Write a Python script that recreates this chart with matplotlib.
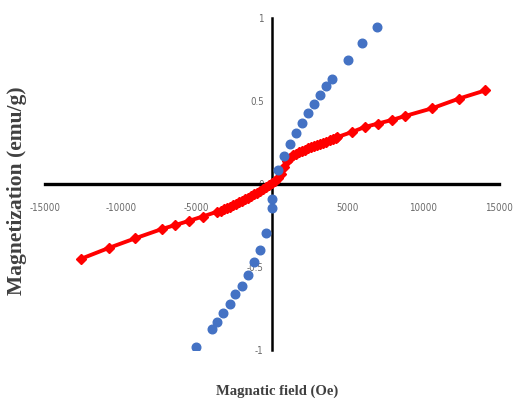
import numpy as np
import matplotlib
matplotlib.use('Agg')
import matplotlib.pyplot as plt

# ---------- data ----------

# blue points
blue_H = [6930, 5940, 4990, 3950, 3600, 3200, 2800, 2390, 1970, 1590, 1190, 770, 400,
          -20, -20, -400, -800, -1190, -1570, -2010, -2430, -2800, -3230, -3620, -3990, -4990]
blue_M = [0.946, 0.847, 0.747, 0.634, 0.589, 0.536, 0.48, 0.428, 0.369, 0.309, 0.239, 0.169, 0.083,
          -0.092, -0.143, -0.295, -0.40, -0.47, -0.548, -0.614, -0.664, -0.725, -0.777, -0.833, -0.875, -0.982]

# red curve
red_H = [-12600, -10780, -9030, -7240, -6380, -5480, -4590, -3660,
         -3400, -3200, -3000, -2800, -2600, -2400, -2200, -2000, -1800, -1600,
         -1400, -1200, -1000, -800, -600, -400, -200, 0, 200, 400, 600, 800,
         1000, 1200, 1400, 1600, 1800, 2000, 2200, 2400, 2600, 2800, 3000,
         3200, 3400, 3600, 3800, 4000, 4200, 4300,
         5280, 6120, 7000, 7930, 8810, 10580, 12340, 14100]
red_M = [-0.45, -0.385, -0.327, -0.27, -0.247, -0.222, -0.196, -0.168,
         -0.16, -0.152, -0.144, -0.136, -0.127, -0.118, -0.109, -0.1, -0.091, -0.082,
         -0.072, -0.062, -0.052, -0.042, -0.031, -0.019, -0.007, 0.006, 0.02, 0.036, 0.06, 0.1,
         0.14, 0.158, 0.172, 0.183, 0.192, 0.2, 0.207, 0.214, 0.221, 0.228, 0.235,
         0.242, 0.249, 0.256, 0.263, 0.27, 0.277, 0.282,
         0.313, 0.343, 0.364, 0.386, 0.41, 0.456, 0.514, 0.564]

x_ticks = [-15000, -10000, -5000, 5000, 10000, 15000]
y_ticks = [-1, -0.5, 0, 0.5, 1]
y_ticklabels = ['-1', '-0.5', '0', '0.5', '1']

# ---------- plot ----------

W, H = 513, 401
fig = plt.figure(figsize=(W/100, H/100), dpi=100)
ax = fig.add_axes([45/W, 1-350/H, 454/W, 332/H])

ax.plot(red_H, red_M, color='#ff0000', lw=2.8, marker='D', ms=5, zorder=3)
ax.plot(blue_H, blue_M, ls='none', marker='o', color='#4472c4', ms=6.2, zorder=4)

ax.set_xlim(-15000, 15000)
ax.set_ylim(-1, 1)

for s in ['top', 'right']:
    ax.spines[s].set_visible(False)
ax.spines['left'].set_position(('data', 0))
ax.spines['bottom'].set_position(('data', 0))
ax.spines['bottom'].set_linewidth(2.4)
ax.spines['left'].set_linewidth(1.8)
ax.spines['left'].set_zorder(2)
ax.spines['bottom'].set_zorder(2)

tick_font = dict(family='DejaVu Sans', stretch='condensed', size=7)
ax.set_xticks(x_ticks)
ax.set_xticklabels([str(v) for v in x_ticks], color='#6a6a6a', **tick_font)
ax.set_yticks(y_ticks)
ax.set_yticklabels(y_ticklabels, color='#6a6a6a', **tick_font)
ax.tick_params(axis='x', length=0, pad=14)
ax.tick_params(axis='y', length=0, pad=6)

fig.text(17/W, 1-191/H, 'Magnetization (emu/g)', rotation=90, ha='center', va='center',
         family='Liberation Serif', weight='bold', size=15.5, color='#404040')
fig.text(277/W, 1-391/H, 'Magnatic field (Oe)', ha='center', va='center',
         family='Liberation Serif', weight='bold', size=10.5, color='#404040')

plt.savefig('out.png', dpi=100)
